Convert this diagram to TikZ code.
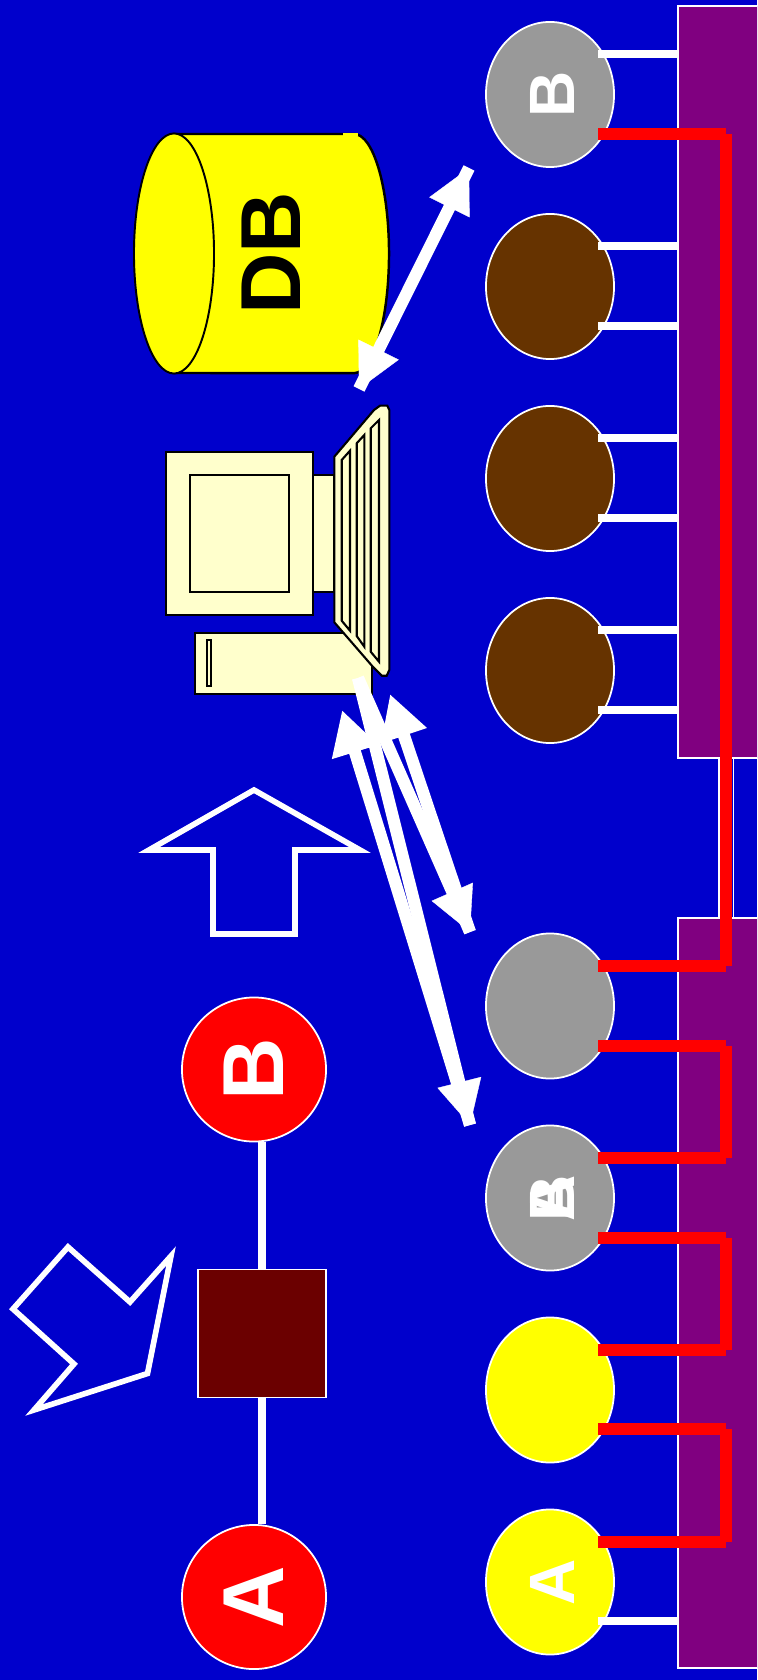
\documentclass[tikz,border=0pt]{standalone}
\usepackage{fontspec}
\setmainfont{Liberation Sans}
\usetikzlibrary{arrows.meta, shapes.geometric}
\definecolor{bgblue}{HTML}{0000CC}
\definecolor{barpurple}{HTML}{800080}
\definecolor{hubbrown}{HTML}{663300}
\definecolor{hubgray}{HTML}{999999}
\definecolor{boxred}{HTML}{6B0000}
\definecolor{pccream}{HTML}{FFFFCC}
\definecolor{dbyellow}{HTML}{FFFF00}
\definecolor{wirered}{HTML}{FF0000}
\tikzset{
    >={Triangle[length=12.5pt, width=12.8pt]},
    bar/.style={draw=white, fill=barpurple, line width=0.5pt, minimum width=0.9cm, inner sep=0},
    hub/.style={draw=white, ellipse, line width=0.5pt, inner sep=0, rotate=90, minimum width=1.45cm, minimum height=1.28cm, text=white, text height=14pt, font=\bfseries\fontsize{18.2pt}{20pt}\selectfont},
    term/.style={draw=white, circle, fill=wirered, line width=0.5pt, inner sep=0, rotate=90, minimum size=1.44cm, text=white, font=\bfseries\fontsize{24.6pt}{27pt}\selectfont},
    whitewire/.style={white, line width=2.3pt},
    redwire/.style={wirered, line width=3.5pt},
    linkline/.style={white, line width=3.45pt, postaction={draw, line width=0.1pt, arrows=#1}},
    linkplain/.style={white, line width=3.45pt, arrows=#1},
    blockarrow/.style={draw=white, line width=1.6pt},
    pcpart/.style={draw=black, fill=pccream, line width=0.6pt},
}
\begin{document}
\begin{tikzpicture}[x=0.01cm, y=-0.01cm]
    \path[use as bounding box, clip] (0,0) rectangle (757,1680);
    \fill[bgblue] (0,0) rectangle (757,1680);

    \node[bar, minimum height=7.52cm] (barTop) at (723,382) {};
    \node[bar, minimum height=7.5cm] (barBot) at (723,1293) {};

    \node[hub, fill=hubgray] (hubB) at (550,94.5) {B};
    \node[hub, fill=hubbrown] (hubTwo) at (550,286.5) {};
    \node[hub, fill=hubbrown] (hubThree) at (550,478.5) {};
    \node[hub, fill=hubbrown] (hubFour) at (550,670.5) {};
    \node[hub, fill=hubgray] (hubFive) at (550,1006) {};
    \node[hub, fill=hubgray] (hubSix) at (550,1198) {A};
    \node[hub, draw=none] (hubSixB) at (hubSix) {B};
    \node[hub, fill=dbyellow] (hubSeven) at (550,1390) {};
    \node[hub, fill=dbyellow] (hubA) at (550,1582) {A};

    \coordinate (rail) at (726,0);
    \coordinate (pinA) at (598,54);
    \coordinate (pinB) at (598,134);
    \coordinate (pinC) at (598,246);
    \coordinate (pinD) at (598,326);
    \coordinate (pinE) at (598,438);
    \coordinate (pinF) at (598,518);
    \coordinate (pinG) at (598,630);
    \coordinate (pinH) at (598,710);
    \coordinate (pinI) at (598,966);
    \coordinate (pinJ) at (598,1046);
    \coordinate (pinK) at (598,1158);
    \coordinate (pinL) at (598,1238);
    \coordinate (pinM) at (598,1350);
    \coordinate (pinN) at (598,1429);
    \coordinate (pinO) at (598,1542);
    \coordinate (pinP) at (598,1621);

    \draw[whitewire] (pinA) -- (pinA -| barTop.west);
    \draw[whitewire] (pinC) -- (pinC -| barTop.west);
    \draw[whitewire] (pinD) -- (pinD -| barTop.west);
    \draw[whitewire] (pinE) -- (pinE -| barTop.west);
    \draw[whitewire] (pinF) -- (pinF -| barTop.west);
    \draw[whitewire] (pinG) -- (pinG -| barTop.west);
    \draw[whitewire] (pinH) -- (pinH -| barTop.west);
    \draw[whitewire] (pinP) -- (pinP -| barBot.west);

    \draw[redwire] (pinB) -- (pinB -| rail);
    \draw[redwire] (pinI) -- (pinI -| rail);
    \draw[redwire] (pinJ) -- (pinJ -| rail);
    \draw[redwire] (pinK) -- (pinK -| rail);
    \draw[redwire] (pinL) -- (pinL -| rail);
    \draw[redwire] (pinM) -- (pinM -| rail);
    \draw[redwire] (pinN) -- (pinN -| rail);
    \draw[redwire] (pinO) -- (pinO -| rail);
    \draw[redwire] (pinB -| rail) -- (pinI -| rail);
    \draw[redwire] (pinJ -| rail) -- (pinK -| rail);
    \draw[redwire] (pinL -| rail) -- (pinM -| rail);
    \draw[redwire] (pinN -| rail) -- (pinO -| rail);
    \draw[white, line width=0.5pt] (719,758) -- (719,918);
    \draw[white, line width=0.5pt] (733.5,758) -- (733.5,918);

    \node[term] (termB) at (254,1069.5) {B};
    \node[term] (termA) at (254,1597) {A};
    \node[draw=white, fill=boxred, line width=0.5pt, minimum size=1.28cm, inner sep=0] (box) at (262,1333.5) {};
    \draw[whitewire] (box.north) -- (box.north |- termB.west);
    \draw[whitewire] (box.south) -- (box.south |- termA.east);

    \draw[blockarrow] (254,790) -- (360,850) -- (295,850) -- (295,934) -- (213,934) -- (213,850) -- (149,850) -- cycle;
    \draw[blockarrow] (68,1247) -- (130,1302) -- (171,1256) -- (147.5,1373.5) -- (34,1410) -- (74,1364) -- (13,1309) -- cycle;

    \draw[draw=black, fill=dbyellow, line width=0.7pt] (174,134) -- (354,134) arc[start angle=90, end angle=-90, x radius=0.35cm, y radius=1.195cm] -- (174,373) -- cycle;
    \fill[dbyellow] (343,133) rectangle (358,136);
    \draw[draw=black, fill=dbyellow, line width=0.55pt] (174,253.5) ellipse [x radius=0.4cm, y radius=1.2cm];
    \node[rotate=90, inner sep=0, text=black, font=\bfseries\fontsize{24.2pt}{26pt}\selectfont] (dbLabel) at (271,253.5) {DB};

    \draw[pcpart] (195,633) rectangle (372,694);
    \draw[pcpart] (207.3,640) rectangle (211,686);
    \draw[pcpart] (313,475) rectangle (334,592);
    \draw[pcpart] (166,452) rectangle (313,615);
    \draw[pcpart] (190,475) rectangle (289,592);
    \draw[pcpart] (334.3,456.7) -- (374,410) -- (380,405.7) -- (387.3,405.7) -- (389.3,410) -- (389.3,670) -- (386.7,675.7) -- (381.7,675.7) -- (373.3,667.3) -- (334.3,622.3) -- cycle;
    \draw[pcpart] (341.7,460) -- (350,450.7) -- (350,630.7) -- (341.7,620.7) -- cycle;
    \draw[pcpart] (356.7,443.3) -- (364.3,435) -- (364.3,646.7) -- (356.7,636) -- cycle;
    \draw[pcpart] (370.7,428.3) -- (379,420) -- (379,661.7) -- (370.7,651.7) -- cycle;

    \coordinate (dbEnd) at (359,389);
    \coordinate (rightEnd) at (469,168);
    \coordinate (pcStub) at (358,678);
    \coordinate (pcTipL) at (342,710);
    \coordinate (pcTipR) at (390,694);
    \coordinate (hubEndU) at (470,932);
    \coordinate (hubEndL) at (470,1125);
    \draw[linkline=<->] (dbEnd) -- (rightEnd);
    \draw[linkline=->] (pcStub) -- (hubEndU);
    \draw[linkline=->] (pcStub) -- (hubEndL);
    \draw[linkplain=<-] (pcTipR) -- (hubEndU);
    \draw[linkplain=<-] (pcTipL) -- (hubEndL);
\end{tikzpicture}
\end{document}
